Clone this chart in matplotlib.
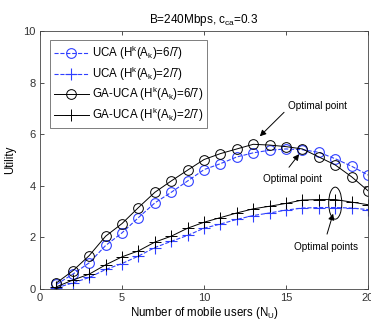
import matplotlib
matplotlib.use('Agg')
import matplotlib.pyplot as plt
from matplotlib.patches import Ellipse

plt.rcParams['font.family'] = ['Liberation Sans', 'DejaVu Sans']
plt.rcParams['mathtext.default'] = 'regular'

# Number of mobile users
n_users = list(range(1, 21))

# Utility values
uca_67 = [0.18, 0.58, 1.02, 1.69, 2.18, 2.77, 3.34, 3.75, 4.19, 4.63,
          4.86, 5.12, 5.28, 5.38, 5.43, 5.40, 5.30, 5.05, 4.76, 4.42]
uca_27 = [0.05, 0.24, 0.45, 0.76, 0.99, 1.28, 1.61, 1.85, 2.08, 2.36,
          2.52, 2.70, 2.85, 2.95, 3.06, 3.14, 3.16, 3.16, 3.14, 3.08]
ga_67 = [0.24, 0.71, 1.30, 2.05, 2.54, 3.16, 3.75, 4.19, 4.61, 5.02,
         5.25, 5.43, 5.61, 5.58, 5.52, 5.43, 5.12, 4.81, 4.35, 3.81]
ga_27 = [0.09, 0.35, 0.58, 0.94, 1.25, 1.48, 1.82, 2.05, 2.36, 2.59,
         2.77, 2.95, 3.11, 3.21, 3.32, 3.45, 3.47, 3.47, 3.37, 3.27]

labels = ['UCA (H$^k$(A$_k$)=6/7)', 'UCA (H$^k$(A$_k$)=2/7)',
          'GA-UCA (H$^k$(A$_k$)=6/7)', 'GA-UCA (H$^k$(A$_k$)=2/7)']

blue = '#2f3fff'

fig = plt.figure(figsize=(3.71, 3.23), dpi=100)
ax = fig.add_axes([0.108, 0.105, 0.884, 0.799])

ax.plot(n_users, uca_67, '--o', color=blue, lw=0.8, ms=7, mfc='none', mew=0.8, label=labels[0])
ax.plot(n_users, uca_27, '--+', color=blue, lw=0.8, ms=8, mew=0.8, label=labels[1])
ax.plot(n_users, ga_67, '-o', color='k', lw=0.7, ms=7, mfc='none', mew=0.7, label=labels[2])
ax.plot(n_users, ga_27, '-+', color='k', lw=0.7, ms=8, mew=0.7, label=labels[3])

ax.set_xlim(0, 20)
ax.set_ylim(0, 10)
ax.set_xticks([0, 5, 10, 15, 20])
ax.set_yticks([0, 2, 4, 6, 8, 10])
ax.tick_params(labelsize=8, direction='in', length=3, width=0.6, colors='#333333',
               top=True, right=True, pad=3)
for s in ax.spines.values():
    s.set_linewidth(0.6)
    s.set_color('#444444')

ax.set_title('B=240Mbps, c$_{ca}$=0.3', fontsize=8.5, pad=6)
ax.set_xlabel('Number of mobile users (N$_U$)', fontsize=8.3, labelpad=1)
ax.set_ylabel('Utility', fontsize=8.3, labelpad=5)

leg = ax.legend(loc='upper left', fontsize=8.3, frameon=True, fancybox=False,
                edgecolor='#444444', borderpad=0.35, handlelength=3.0,
                handletextpad=0.3, labelspacing=0.2, borderaxespad=0,
                bbox_to_anchor=(0.03, 0.965))
leg.get_frame().set_linewidth(0.6)

arrow = dict(arrowstyle='-|>', color='k', lw=0.7, mutation_scale=9, shrinkA=0, shrinkB=0)
ax.text(16.9, 7.08, 'Optimal point', fontsize=7.2, ha='center', va='center')
ax.annotate('', xy=(13.4, 5.92), xytext=(14.88, 6.85), arrowprops=arrow)
ax.text(15.4, 4.26, 'Optimal point', fontsize=7.2, ha='center', va='center')
ax.annotate('', xy=(15.8, 5.23), xytext=(15.18, 4.72), arrowprops=arrow)
ax.text(17.45, 1.63, 'Optimal points', fontsize=7.2, ha='center', va='center')
ax.annotate('', xy=(17.87, 2.92), xytext=(17.5, 2.13), arrowprops=arrow)
ax.add_patch(Ellipse((18, 3.33), 0.8, 1.24, fill=False, color='k', lw=0.7))

fig.savefig('out.png', dpi=100)
